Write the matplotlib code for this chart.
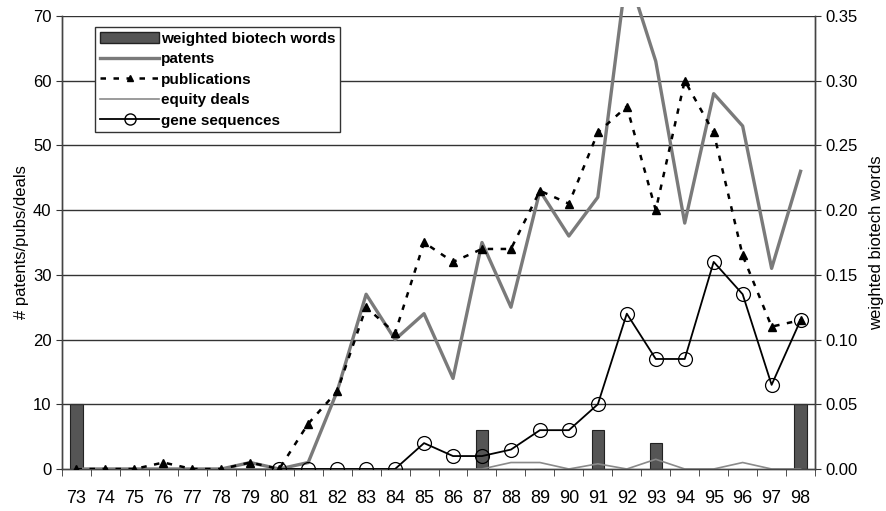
import numpy as np
import matplotlib.pyplot as plt
from matplotlib.patches import Rectangle, Patch
from matplotlib.lines import Line2D

plt.rcParams['font.family'] = ['Liberation Sans', 'DejaVu Sans']

years = ['73', '74', '75', '76', '77', '78', '79', '80', '81', '82', '83', '84', '85',
         '86', '87', '88', '89', '90', '91', '92', '93', '94', '95', '96', '97', '98']

patents = [0, 0, 0, 0, 0, 0, 1, 0, 1, 12, 27, 20, 24,
           14, 35, 25, 43, 36, 42, 77, 63, 38, 58, 53, 31, 46]
publications = [0, 0, 0, 1, 0, 0, 1, 0, 7, 12, 25, 21, 35,
                32, 34, 34, 43, 41, 52, 56, 40, 60, 52, 33, 22, 23]
equity_deals = [0, 0, 0, 0, 0, 0, 0, 0, 0, 0, 0, 0, 0,
                0, 0, 1, 1, 0, 0.8, 0, 1.5, 0, 0, 1, 0, 0]
# gene sequences start in 1980
gene_years = years[7:]
gene_sequences = [0, 0, 0, 0, 0, 4, 2, 2, 3, 6, 6, 10, 24, 17, 17, 32, 27, 13, 23]
biotech_words = [0.05, 0, 0, 0, 0, 0, 0, 0, 0, 0, 0, 0, 0,
                 0, 0.03, 0, 0, 0, 0.03, 0, 0.02, 0, 0, 0, 0, 0.05]

x = np.arange(len(years))
gx = np.arange(7, len(years))
pub_dash = (0, (2.2, 3.0))

fig = plt.figure(figsize=(8.87, 5.11), dpi=100)
ax = fig.add_axes([0.0699, 0.0822, 0.849, 0.8865])
ax2 = ax.twinx()

# bars on the right-hand scale, drawn underneath the lines
ax2.bar(x, biotech_words, width=0.42, color='#555555', edgecolor='#222222',
        linewidth=0.8, zorder=1)
ax2.set_ylim(0, 0.35)
ax2.set_yticks(np.arange(0, 0.351, 0.05))
ax2.set_yticklabels([f'{v:.2f}' for v in np.arange(0, 0.351, 0.05)])
ax2.set_ylabel('weighted biotech words', fontsize=12, labelpad=8)

ax.set_zorder(ax2.get_zorder() + 1)
ax.patch.set_visible(False)
ax2.patch.set_visible(True)
ax2.patch.set_facecolor('white')

for yv in range(10, 71, 10):
    ax.axhline(yv, color='#333333', linewidth=1.0, zorder=0)

clip = Rectangle((0, 0), 1, 1.02, transform=ax.transAxes)
pat_line, = ax.plot(x, patents, color='#7a7a7a', linewidth=2.4, zorder=3)
pat_line.set_clip_path(clip)
ax.plot(x, equity_deals, color='#8a8a8a', linewidth=1.2, zorder=2)
ax.plot(x, publications, color='black', linewidth=1.8, linestyle=pub_dash,
        marker='^', markersize=6, markerfacecolor='black', zorder=4)
ax.plot(gx, gene_sequences, color='black', linewidth=1.3, marker='o',
        markersize=10, markerfacecolor='none', markeredgecolor='black',
        markeredgewidth=0.9, zorder=5)

ax.set_xlim(-0.5, len(years) - 0.5)
ax.set_ylim(0, 70)
ax.set_yticks(range(0, 71, 10))
ax.set_xticks(x)
ax.set_xticklabels(years)
ax.set_xticks(np.arange(-0.5, len(years), 1), minor=True)
ax.tick_params(axis='x', which='major', length=0, pad=15, labelsize=13)
ax.tick_params(axis='x', which='minor', length=5, direction='out', color='#333333')
ax.tick_params(axis='y', length=4, labelsize=12, color='#333333')
ax2.tick_params(axis='y', length=4, labelsize=12, color='#333333')
ax.set_ylabel('# patents/pubs/deals', fontsize=12, labelpad=3)

for a in (ax, ax2):
    a.spines['top'].set_visible(False)
    for s in ('left', 'right', 'bottom'):
        a.spines[s].set_color('#444444')
        a.spines[s].set_linewidth(1.0)

handles = [
    Patch(facecolor='#555555', edgecolor='#222222'),
    Line2D([], [], color='#7a7a7a', linewidth=2.4),
    Line2D([], [], color='black', linewidth=1.8, linestyle=pub_dash,
           marker='^', markersize=5),
    Line2D([], [], color='#8a8a8a', linewidth=1.2),
    Line2D([], [], color='black', linewidth=1.3, marker='o', markersize=8,
           markerfacecolor='none'),
]
labels = ['weighted biotech words', 'patents', 'publications', 'equity deals',
          'gene sequences']
leg = ax.legend(handles, labels, loc='upper left', bbox_to_anchor=(0.044, 0.975),
                fancybox=False, framealpha=1, edgecolor='#333333',
                prop={'weight': 'bold', 'size': 11}, handlelength=3.9,
                handletextpad=0.1, labelspacing=0.42, borderpad=0.3,
                borderaxespad=0)
leg.get_frame().set_linewidth(1.0)

plt.savefig('out.png', dpi=100)
